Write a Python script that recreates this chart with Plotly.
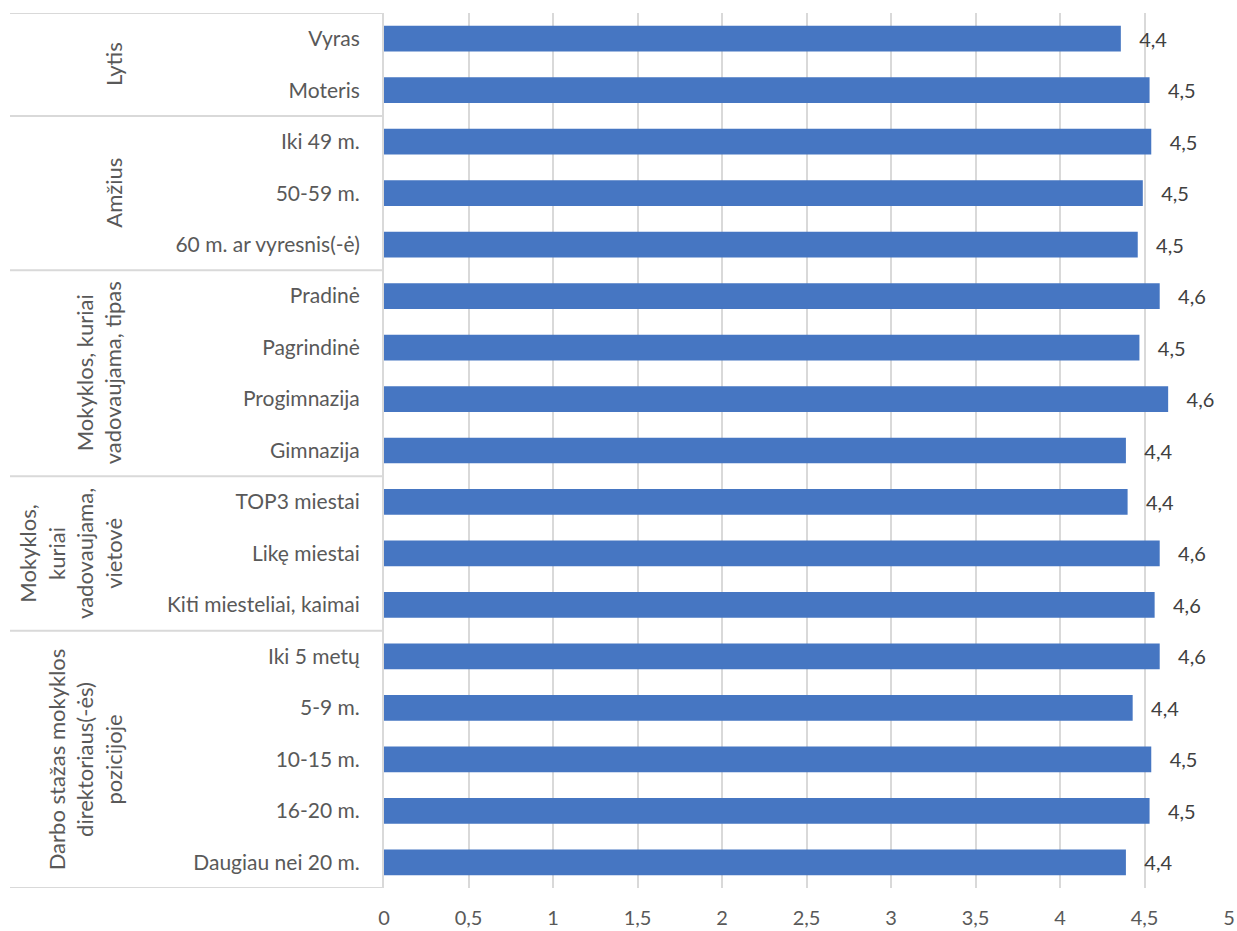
import plotly.graph_objects as go

groups = ["Lytis", "Amžius", "Mokyklos, kuriai<br>vadovaujama, tipas",
          "Mokyklos,<br>kuriai<br>vadovaujama,<br>vietovė",
          "Darbo stažas mokyklos<br>direktoriaus(-ės)<br>pozicijoje"]
group_sizes = [2, 3, 4, 3, 5]
categories = ["Vyras", "Moteris",
              "Iki 49 m.", "50-59 m.", "60 m. ar vyresnis(-ė)",
              "Pradinė", "Pagrindinė", "Progimnazija", "Gimnazija",
              "TOP3 miestai", "Likę miestai", "Kiti miesteliai, kaimai",
              "Iki 5 metų", "5-9 m.", "10-15 m.", "16-20 m.", "Daugiau nei 20 m."]
values = [4.36, 4.53,
          4.54, 4.49, 4.46,
          4.59, 4.47, 4.64, 4.39,
          4.40, 4.59, 4.56,
          4.59, 4.43, 4.54, 4.53, 4.39]
x_ticks = [0, 0.5, 1, 1.5, 2, 2.5, 3, 3.5, 4, 4.5, 5]

FONT = "Lato"
TXT = "#595959"
LINE = "#D9D9D9"
FS = 21

fig = go.Figure()
fig.add_trace(go.Bar(
    y=categories, x=values, orientation="h",
    marker=dict(color="#4676C2", line=dict(width=0)),
    texttemplate="\u00a0\u00a0\u00a0%{x:.1f}", textposition="outside",
    textfont=dict(family=FONT, size=20, color="#404040"),
    cliponaxis=False, hoverinfo="skip",
))

ML, MR, MT, MB = 384, 8, 13, 43
W, H = 1237, 931
pw = W - ML - MR

shapes = []
annotations = []
n = len(categories)
start = 0
bounds = [-0.5]
for g, size in zip(groups, group_sizes):
    end = start + size
    bounds.append(end - 0.5)
    mid = (start + end - 1) / 2
    annotations.append(dict(
        text=g, x=(129 - ML) / pw, xref="paper", y=mid, yref="y",
        xanchor="right", yanchor="middle", textangle=-90, showarrow=False,
        font=dict(family=FONT, size=22, color=TXT), align="center"))
    start = end
for b in bounds:
    shapes.append(dict(type="line", xref="paper", yref="y",
                       x0=(10 - ML) / pw, x1=0, y0=b, y1=b,
                       line=dict(color=LINE, width=2), layer="below"))

fig.update_layout(
    width=W, height=H,
    margin=dict(l=ML, r=MR, t=MT, b=MB, autoexpand=False),
    plot_bgcolor="white", paper_bgcolor="white",
    separators=", ",
    bargap=0.5,
    showlegend=False,
    shapes=shapes, annotations=annotations,
    font=dict(family=FONT, size=FS, color=TXT),
    xaxis=dict(range=[0, 5], tickvals=x_ticks, showgrid=True, gridcolor=LINE,
               gridwidth=1.5, zeroline=False, showline=False, automargin=False,
               tickfont=dict(family=FONT, size=20, color=TXT), ticks="",
               ticklabelstandoff=16, fixedrange=True),
    yaxis=dict(autorange=False, range=[n - 0.5, -0.5], showgrid=False,
               showline=True, linecolor=LINE, linewidth=2, ticks="",
               automargin=False,
               tickfont=dict(family=FONT, size=FS, color=TXT),
               ticklabelstandoff=18, fixedrange=True),
)

fig.write_html("out.html", config={"displayModeBar": False},
               post_script="document.body.style.margin='0px';")
